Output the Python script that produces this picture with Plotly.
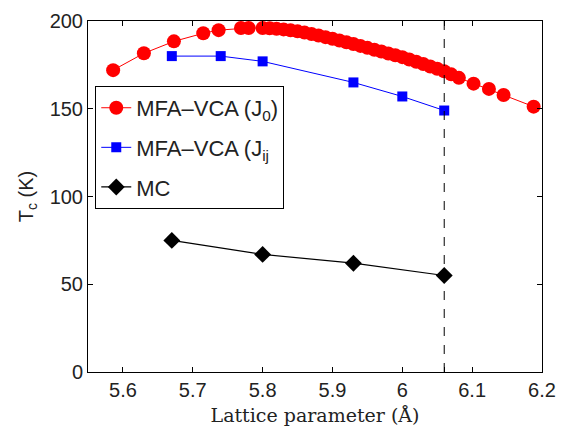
import plotly.graph_objects as go

# Data
red_x = [5.586, 5.630, 5.673, 5.715, 5.737, 5.769, 5.780,
         5.80, 5.81, 5.82, 5.83, 5.84, 5.85, 5.86, 5.87, 5.88, 5.89,
         5.90, 5.91, 5.92, 5.93, 5.94, 5.95, 5.96, 5.97, 5.98, 5.99,
         6.00, 6.01, 6.02, 6.03, 6.04, 6.05, 6.06, 6.07,
         6.081, 6.102, 6.124, 6.145, 6.188]
red_y = [172.0, 181.6, 188.4, 193.0, 194.8, 196.0, 196.0,
         196.0, 195.9, 195.6, 195.2, 194.7, 194.1, 193.4, 192.6, 191.7, 190.8,
         189.9, 188.9, 187.9, 186.9, 185.8, 184.7, 183.6, 182.6, 181.5, 180.5,
         179.4, 178.1, 176.8, 175.5, 174.1, 172.8, 171.4, 169.6,
         167.6, 164.3, 161.3, 157.8, 151.2]

blue_x = [5.67, 5.74, 5.80, 5.93, 6.00, 6.06]
blue_y = [180, 180, 177, 165, 157, 149]

mc_x = [5.67, 5.80, 5.93, 6.06]
mc_y = [75, 67, 62, 55]

dash_x = 6.06
x_ticks = [5.6, 5.7, 5.8, 5.9, 6.0, 6.1, 6.2, 6.06]
x_ticktext = ["5.6", "5.7", "5.8", "5.9", "6", "6.1", "6.2", ""]
y_ticks = [0, 50, 100, 150, 200]

fig = go.Figure()
fig.add_trace(go.Scatter(x=red_x, y=red_y, mode="lines+markers",
                         name="MFA\u2013VCA (J<sub>0</sub>)", legendgroup="a",
                         line=dict(color="#ff0000", width=1),
                         marker=dict(symbol="circle", size=14, color="#ff0000")))
fig.add_trace(go.Scatter(x=blue_x, y=blue_y, mode="lines+markers",
                         name="MFA\u2013VCA (J<sub>ij</sub>", legendgroup="b",
                         line=dict(color="#0000ff", width=1),
                         marker=dict(symbol="square", size=10, color="#0000ff")))
fig.add_trace(go.Scatter(x=mc_x, y=mc_y, mode="lines+markers",
                         name="MC", legendgroup="c",
                         line=dict(color="#000000", width=1.2),
                         marker=dict(symbol="diamond", size=13, color="#000000")))

fig.add_shape(type="line", x0=dash_x, x1=dash_x, y0=0, y1=200, xref="x", yref="y",
              line=dict(color="black", width=1, dash="dash"))

fig.update_layout(
    width=566, height=435,
    margin=dict(l=88, r=15, t=10, b=63),
    paper_bgcolor="white", plot_bgcolor="white",
    font=dict(family="Liberation Sans, Arial, sans-serif", size=20, color="#222"),
    showlegend=True,
    legend=dict(x=0.016, y=0.815, xanchor="left", yanchor="top",
                bgcolor="white", bordercolor="black", borderwidth=1,
                tracegroupgap=8,
                font=dict(size=22, color="#222")),
    xaxis=dict(range=[5.55, 6.2], tickvals=x_ticks, ticktext=x_ticktext,
               ticks="inside", ticklen=5, tickcolor="black",
               showline=True, linecolor="black", linewidth=1, mirror="ticks",
               showgrid=False, zeroline=False,
               title=dict(text="Lattice parameter (\u00c5)", standoff=8,
                          font=dict(family="DejaVu Serif, Liberation Serif, serif", size=19, color="#222"))),
    yaxis=dict(range=[0, 200], tickvals=y_ticks,
               ticks="inside", ticklen=5, tickcolor="black",
               showline=True, linecolor="black", linewidth=1, mirror="ticks",
               showgrid=False, zeroline=False,
               title=dict(text="T<sub>c</sub> (K)", standoff=10,
                          font=dict(size=20, color="#222"))),
)

fig.write_html("out.html")
